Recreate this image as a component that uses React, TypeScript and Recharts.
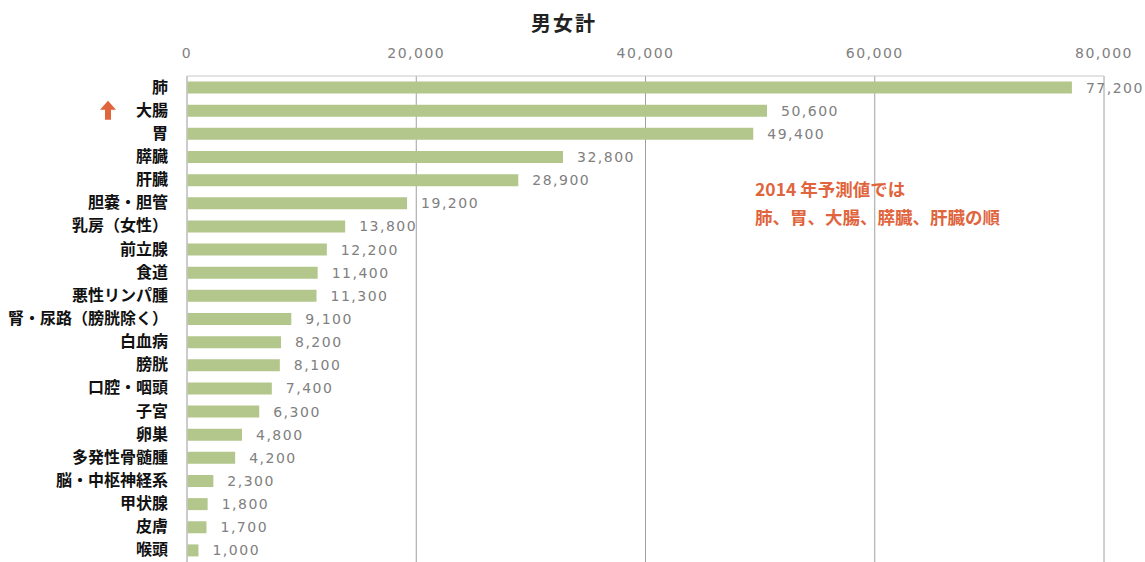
import React from "react";
import { BarChart, Bar, XAxis, YAxis, CartesianGrid, LabelList } from "recharts";

// 2014年予測値 がん罹患数 (男女計)
const sites = [
    "肺", "大腸", "胃", "膵臓", "肝臓", "胆嚢・胆管", "乳房（女性）", "前立腺", "食道",
    "悪性リンパ腫", "腎・尿路（膀胱除く）", "白血病", "膀胱", "口腔・咽頭", "子宮", "卵巣",
    "多発性骨髄腫", "脳・中枢神経系", "甲状腺", "皮膚", "喉頭",
];
const cases = [
    77200, 50600, 49400, 32800, 28900, 19200, 13800, 12200, 11400,
    11300, 9100, 8200, 8100, 7400, 6300, 4800,
    4200, 2300, 1800, 1700, 1000,
];
const xTicks = [0, 20000, 40000, 60000, 80000];
const risingSite = "大腸";
const noteLines = ["2014 年予測値では", "肺、胃、大腸、膵臓、肝臓の順"];

const data = sites.map((name, i) => ({ name, value: cases[i] }));

const jp = "'Noto Sans CJK JP', 'Noto Sans', sans-serif";
const num = "'DejaVu Sans', sans-serif";
const accent = "#e0643c";

const SiteTick = (props: any) => {
    const { x, y, payload } = props;
    return (
        <g>
            <text x={x} y={y} dy={5} textAnchor="end" fontSize={16} fontWeight={700} fill="#111" fontFamily={jp}>
                {payload.value}
            </text>
            {payload.value === risingSite && (
                <path
                    d={`M ${x - 60} ${y - 10} l -8 9 h 5 v 10 h 6 v -10 h 5 z`}
                    fill={accent}
                />
            )}
        </g>
    );
};

const App: React.FC = () => {
    return (
        <div style={{ position: "absolute", left: 0, top: 0, width: 1145, height: 562, background: "#fff" }}>
            <div
                style={{
                    position: "absolute", left: 0, top: 8, width: 1128, textAlign: "center",
                    fontFamily: jp, fontWeight: 700, fontSize: 20, letterSpacing: 2, color: "#222",
                }}
            >
                男女計
            </div>
            <BarChart
                width={1145}
                height={562}
                data={data}
                layout="vertical"
                margin={{ top: 46, right: 41, bottom: 0, left: 0 }}
                barCategoryGap="24%"
            >
                <CartesianGrid horizontal={false} stroke="#a0a0a0" />
                <XAxis
                    type="number"
                    orientation="top"
                    domain={[0, 80000]}
                    ticks={xTicks}
                    height={30}
                    tickFormatter={(v: number) => v.toLocaleString("en-US")}
                    tick={{ fontSize: 14, fill: "#808080", fontFamily: num, letterSpacing: 1.5 }}
                    axisLine={{ stroke: "#c8c8c8" }}
                    tickLine={false}
                    tickMargin={12}
                />
                <YAxis
                    type="category"
                    dataKey="name"
                    width={187}
                    tick={<SiteTick />}
                    axisLine={{ stroke: "#c8c8c8" }}
                    tickLine={false}
                    tickMargin={13}
                    interval={0}
                />
                <Bar dataKey="value" fill="#b3c68c" isAnimationActive={false}>
                    <LabelList
                        dataKey="value"
                        position="right"
                        offset={14}
                        formatter={(v: any) => Number(v).toLocaleString("en-US")}
                        style={{ fontSize: 14, fill: "#808080", fontFamily: num, letterSpacing: 1.5 }}
                    />
                </Bar>
            </BarChart>
            <div
                style={{
                    position: "absolute", left: 755, top: 175, fontFamily: jp, fontWeight: 700,
                    fontSize: 17.5, color: accent, lineHeight: "28px",
                }}
            >
                {noteLines.map((l) => (
                    <div key={l}>{l}</div>
                ))}
            </div>
        </div>
    );
};

export default App;
